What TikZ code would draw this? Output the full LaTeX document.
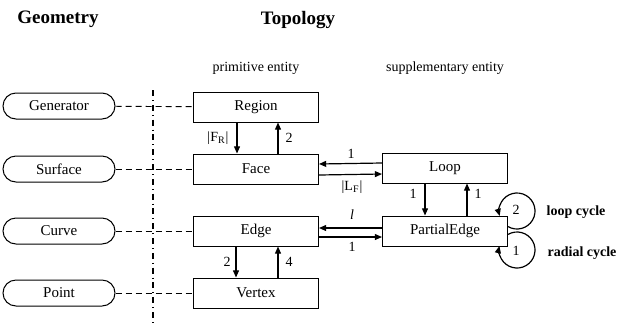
\documentclass[tikz,border=0pt]{standalone}
\usepackage{fontspec}
\setmainfont{Liberation Serif}
\usetikzlibrary{arrows.meta,positioning}
\tikzset{
  geom/.style={draw, line width=0.5pt, rounded corners=6.5pt, minimum width=56pt, minimum height=13pt, inner sep=0pt, font=\fontsize{7.5}{9}\selectfont},
  topo/.style={draw, line width=0.5pt, minimum width=62.5pt, minimum height=15pt, inner sep=0pt, font=\fontsize{7.5}{9}\selectfont},
  link/.style={densely dashed, line width=0.45pt},
  rel/.style={-{Triangle[length=3.6pt,width=3pt]}, line width=0.6pt},
  lbl/.style={inner sep=0.5pt, font=\fontsize{7}{8}\selectfont},
  cyc/.style={inner sep=0.5pt, font=\fontsize{7}{8}\selectfont\bfseries},
  title/.style={inner sep=0pt, font=\fontsize{9.5}{11}\selectfont\bfseries}
}

\begin{document}
\begin{tikzpicture}[x=0.5pt, y=-0.5pt]
  \useasboundingbox (0,0) rectangle (619,327);

  % headings
  \node[title] (geometry) at (58,19) {Geometry};
  \node[title] (topology) at (298,20) {Topology};
  \node[lbl] (primitive) at (256,68) {primitive entity};
  \node[lbl] (supplementary) at (445,68) {supplementary entity};

  % geometry side
  \node[geom] (generator) at (59,106) {Generator};
  \node[geom] (surface) at (59,169) {Surface};
  \node[geom] (curve) at (59,231) {Curve};
  \node[geom] (point) at (59,293) {Point};

  % topology side
  \node[topo] (region) at (256,107) {Region};
  \node[topo] (face) at (256,169) {Face};
  \node[topo] (edge) at (256,231) {Edge};
  \node[topo] (vertex) at (256,293) {Vertex};
  \node[topo] (loop) at (445,168) {Loop};
  \node[topo] (partialedge) at (445,231) {PartialEdge};

  % separator
  \coordinate (septop) at (153,90);
  \coordinate (sepbot) at (153,326);
  \draw[dash dot, line width=0.6pt] (septop) -- (sepbot);

  % geometry -- topology
  \draw[link] (generator) -- (region);
  \draw[link] (surface) -- (face);
  \draw[link] (curve) -- (edge);
  \draw[link] (point) -- (vertex);

  % region / face
  \draw[rel] ([xshift=-9.5pt]region.south) -- ([xshift=-9.5pt]face.north);
  \draw[rel] ([xshift=11pt]face.north) -- ([xshift=11pt]region.south);
  \node[lbl] (fr) at (218,138) {|F\textsubscript{R}|};
  \node[lbl] (fr2) at (289,138) {2};

  % face / loop
  \draw[rel] ([yshift=2.5pt]loop.west) -- ([yshift=2.5pt]face.east);
  \draw[rel] ([yshift=-3pt]face.east) -- ([yshift=-3pt]loop.west);
  \node[lbl] (fl1) at (351,154) {1};
  \node[lbl] (lf) at (352,187) {|L\textsubscript{F}|};

  % loop / partialedge
  \draw[rel] ([xshift=-10pt]loop.south) -- ([xshift=-10pt]partialedge.north);
  \draw[rel] ([xshift=11pt]partialedge.north) -- ([xshift=11pt]loop.south);
  \node[lbl] (lp1) at (413,194) {1};
  \node[lbl] (lp2) at (478,194) {1};

  % edge / partialedge
  \draw[rel] ([yshift=1.5pt]partialedge.west) -- ([yshift=1.5pt]edge.east);
  \draw[rel] ([yshift=-3pt]edge.east) -- ([yshift=-3pt]partialedge.west);
  \node[lbl] (ep1) at (352,215) {\textit{l}};
  \node[lbl] (ep2) at (352,247) {1};

  % edge / vertex
  \draw[rel] ([xshift=-10pt]edge.south) -- ([xshift=-10pt]vertex.north);
  \draw[rel] ([xshift=11pt]vertex.north) -- ([xshift=11pt]edge.south);
  \node[lbl] (ev1) at (227,262) {2};
  \node[lbl] (ev2) at (289,262) {4};

  % cycles
  \coordinate (loopc) at (517,211);
  \coordinate (radc) at (517,250);
  \draw[rel] ([shift={(-120:9pt)}]loopc) arc[start angle=-120, end angle=196, radius=9pt];
  \draw[rel] ([shift={(120:9pt)}]radc) arc[start angle=120, end angle=-193, radius=9pt];
  \node[lbl] (lc) at (516,210) {2};
  \node[lbl] (rc) at (516,251) {1};
  \node[cyc] (loopcycle) at (576,212) {loop cycle};
  \node[cyc] (radialcycle) at (582,253) {radial cycle};
\end{tikzpicture}
\end{document}
